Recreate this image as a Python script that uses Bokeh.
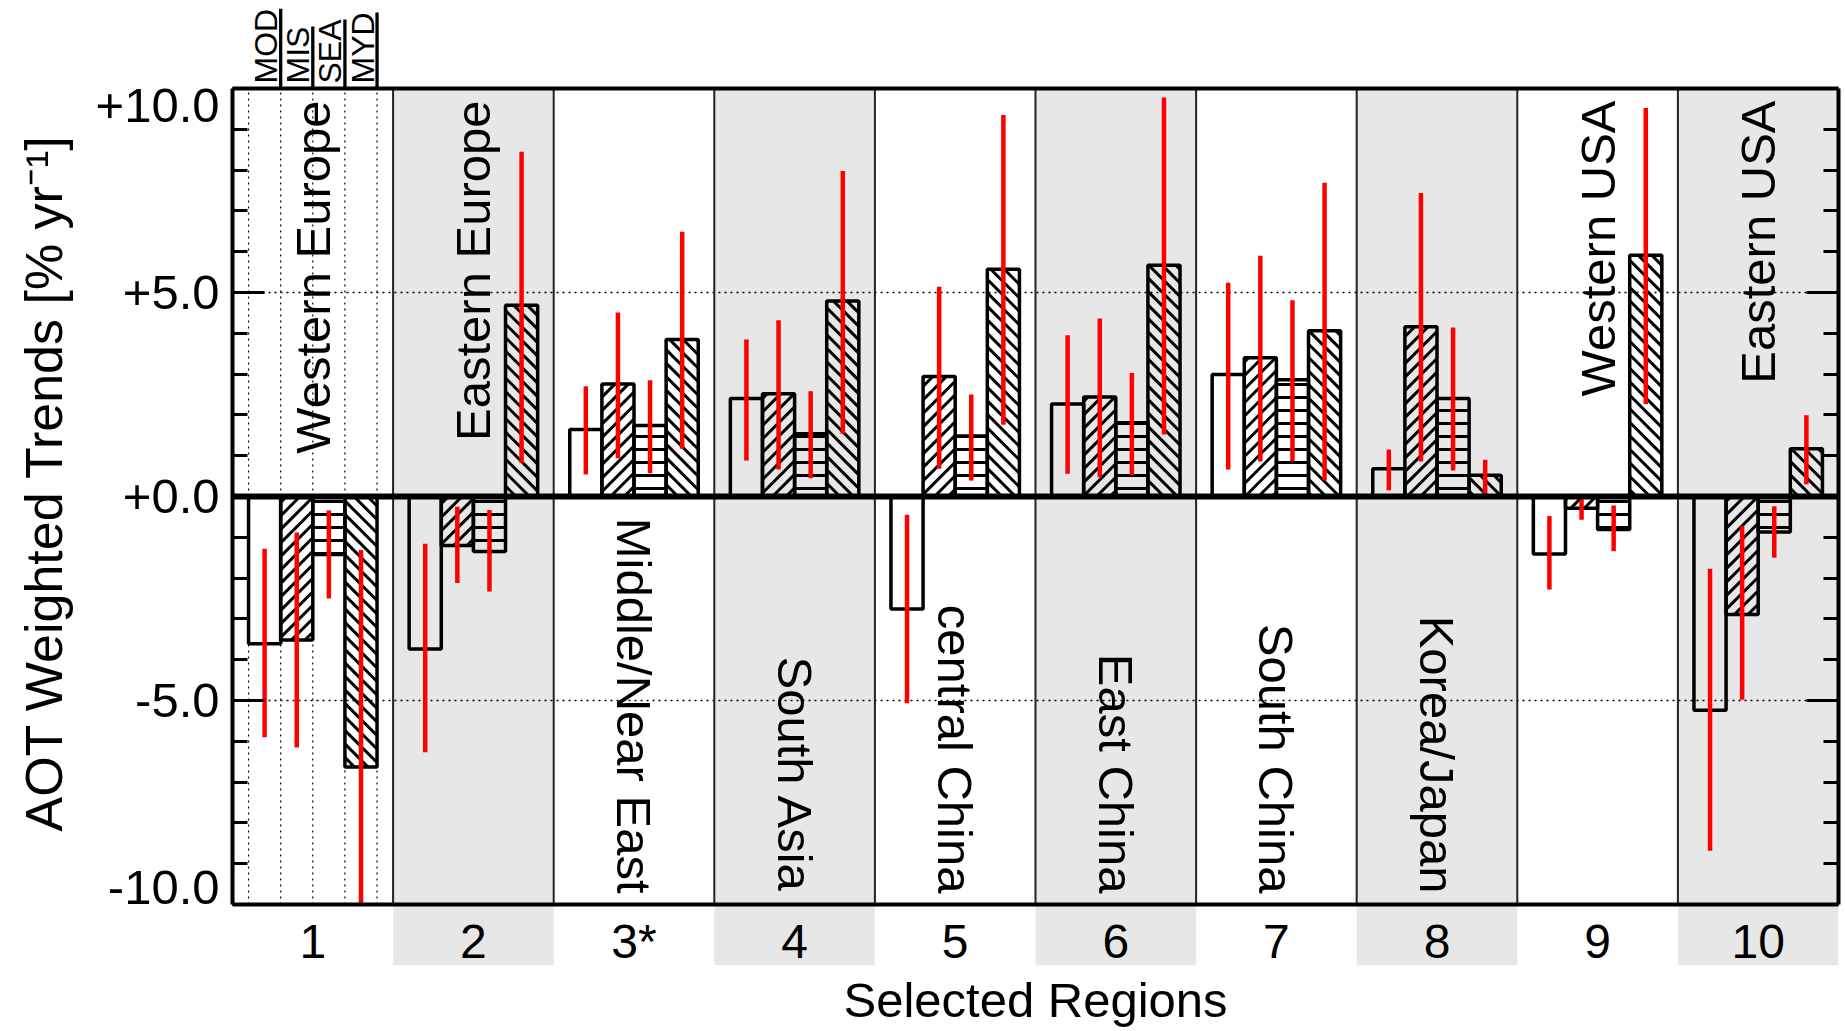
import math
from bokeh.plotting import figure
from bokeh.models import Range1d, FixedTicker, LinearAxis, ColumnDataSource, Span
from bokeh.core.properties import value
from bokeh.embed import file_html
from bokeh.resources import INLINE

# ---------------- data ----------------
region_ticks = ["1", "2", "3*", "4", "5", "6", "7", "8", "9", "10"]
region_names = ["Western Europe", "Eastern Europe", "Middle/Near East", "South Asia",
                "central China", "East China", "South China", "Korea/Japan",
                "Western USA", "Eastern USA"]
series_names = ["MOD", "MIS", "SEA", "MYD"]

mod_trend = [-3.61, -3.74, 1.64, 2.40, -2.76, 2.27, 2.99, 0.68, -1.41, -5.24]
mod_lo    = [-5.90, -6.27, 0.54, 0.88, -5.07, 0.56, 0.66, 0.15, -2.28, -8.68]
mod_hi    = [-1.28, -1.16, 2.70, 3.85, -0.45, 3.95, 5.24, 1.15, -0.48, -1.77]

mis_trend = [-3.52, -1.20, 2.76, 2.52, 2.94, 2.44, 3.40, 4.16, -0.29, -2.89]
mis_lo    = [-6.15, -2.12, 0.94, 0.66, 0.68, 0.47, 0.86, 0.86, -0.57, -4.98]
mis_hi    = [-0.88, -0.25, 4.51, 4.32, 5.14, 4.36, 5.90, 7.44, -0.07, -0.73]

sea_trend = [-1.42, -1.35, 1.74, 1.54, 1.48, 1.81, 2.86, 2.40, -0.81, -0.87]
sea_lo    = [-2.50, -2.33, 0.57, 0.45, 0.39, 0.52, 0.86, 0.64, -1.34, -1.50]
sea_hi    = [-0.34, -0.33, 2.85, 2.58, 2.50, 3.03, 4.81, 4.14, -0.22, -0.24]

myd_trend = [-6.63, 4.69, 3.85, 4.79, 5.57, 5.67, 4.06, 0.52, 5.91, 1.17]
myd_lo    = [-10.0, 0.82, 1.17, 1.54, 1.76, 1.52, 0.39, 0.07, 2.27, 0.30]
myd_hi    = [-1.31, 8.45, 6.49, 7.98, 9.35, 9.78, 7.69, 0.90, 9.52, 1.99]

y_ticks = [-10, -5, 0, 5, 10]
y_tick_labels = ["-10.0", "-5.0", "+0.0", "+5.0", "+10.0"]
y_minor_ticks = list(range(-10, 11))

# ---------------- layout ----------------
FONT = value("Liberation Sans")
W, H = 1845, 1031
PX = 40.8                      # pixels per data unit (vertical)
Y_TOP = 10 + 88 / PX           # room above frame for legend
Y_BOT = -10 - 61 / PX          # room below frame for region numbers
PXX = (1838 - 232) / 10.0      # pixels per region (horizontal)
BAR_W = 0.2

p = figure(width=W, height=H, x_range=Range1d(0.5, 10.5), y_range=Range1d(Y_BOT, Y_TOP),
           output_backend="svg", toolbar_location=None, tools="",
           min_border_left=232, min_border_right=7, min_border_top=0, min_border_bottom=66,
           outline_line_color=None, background_fill_color="white", border_fill_color="white")
p.xgrid.visible = False
p.ygrid.visible = False

n = len(region_names)
xs = list(range(1, n + 1))

# grey bands for even regions
band_x = [x for x in xs if x % 2 == 0]
p.quad(left=[x - 0.5 for x in band_x], right=[x + 0.5 for x in band_x],
       top=10, bottom=Y_BOT, fill_color="#e7e7e7", line_color=None)

# dotted horizontal grid at +/-5
p.segment(x0=0.5, x1=10.5, y0=[5, -5], y1=[5, -5], line_color="black",
          line_width=1.5, line_dash="2 4")

# region-1 dotted bar boundaries
edges1 = [1 + (k - 2) * BAR_W for k in range(5)]
p.segment(x0=edges1, x1=edges1, y0=-10, y1=10, line_color="black",
          line_width=1.2, line_dash="2 4")

# region separators
seps = [x + 0.5 for x in xs[:-1]]
p.segment(x0=seps, x1=seps, y0=-10, y1=10, line_color="#222222", line_width=2)


def diag_hatch(xc_list, vals, direction, d=13.5):
    """45-degree hatch lines clipped to each bar (computed in pixel space)."""
    sx0, sy0, sx1, sy1 = [], [], [], []
    for xc, v in zip(xc_list, vals):
        X0 = (xc - BAR_W / 2 - 0.5) * PXX
        X1 = (xc + BAR_W / 2 - 0.5) * PXX
        Y0, Y1 = sorted([0.0, v * PX])
        if direction == "/":
            kmin = math.ceil((Y0 - X1) / d)
            kmax = math.floor((Y1 - X0) / d)
            for k in range(kmin, kmax + 1):
                c = k * d
                xa, xb = max(X0, Y0 - c), min(X1, Y1 - c)
                if xb - xa > 0.5:
                    sx0.append(xa); sy0.append(xa + c); sx1.append(xb); sy1.append(xb + c)
        else:
            kmin = math.ceil((Y0 + X0) / d)
            kmax = math.floor((Y1 + X1) / d)
            for k in range(kmin, kmax + 1):
                c = k * d
                xa, xb = max(X0, c - Y1), min(X1, c - Y0)
                if xb - xa > 0.5:
                    sx0.append(xa); sy0.append(c - xa); sx1.append(xb); sy1.append(c - xb)
    return dict(x0=[a / PXX + 0.5 for a in sx0], y0=[b / PX for b in sy0],
                x1=[a / PXX + 0.5 for a in sx1], y1=[b / PX for b in sy1])


# bars
series = [(mod_trend, mod_lo, mod_hi, None),
          (mis_trend, mis_lo, mis_hi, "/"),
          (sea_trend, sea_lo, sea_hi, "-"),
          (myd_trend, myd_lo, myd_hi, "\\")]
sources = []
for i, (vals, lo, hi, pat) in enumerate(series):
    off = (i - 1.5) * BAR_W
    bx_ = [x + off for x in xs]
    src = ColumnDataSource(dict(x=bx_, top=vals, lo=lo, hi=hi))
    sources.append(src)
    kw = {}
    if pat in ("/", "\\"):
        p.segment(source=ColumnDataSource(diag_hatch(bx_, vals, pat)), x0="x0", y0="y0",
                  x1="x1", y1="y1", line_color="black", line_width=3)
    elif pat == "-":
        kw = dict(hatch_pattern="horizontal_line", hatch_color="black", hatch_weight=3,
                  hatch_scale=13)
    p.vbar(x="x", top="top", bottom=0, width=BAR_W, source=src, fill_color=None,
           line_color="black", line_width=3.5, **kw)

# error bars
for src in sources:
    p.segment(x0="x", x1="x", y0="lo", y1="hi", source=src, line_color="#ff0000", line_width=4.5)

# zero line and frame top/bottom
p.add_layout(Span(location=0, dimension="width", line_color="black", line_width=6))
p.add_layout(Span(location=10, dimension="width", line_color="black", line_width=4))
p.add_layout(Span(location=-10, dimension="width", line_color="black", line_width=4))

# region names
top_regions = {0, 1, 8, 9}
tx = [xs[i] for i in range(n) if i in top_regions]
tt = [region_names[i] for i in range(n) if i in top_regions]
bx = [xs[i] for i in range(n) if i not in top_regions]
bt = [region_names[i] for i in range(n) if i not in top_regions]
p.text(x=tx, y=10 - 12 / PX, text=tt, angle=math.pi / 2, text_align="right",
       text_baseline="middle", text_font=FONT, text_font_size="49px", text_color="black")
p.text(x=bx, y=-10 + 11 / PX, text=bt, angle=-math.pi / 2, text_align="right",
       text_baseline="middle", text_font=FONT, text_font_size="49px", text_color="black")

# region numbers
p.text(x=xs, y=-10 - 37 / PX, text=region_ticks, text_align="center", text_baseline="middle",
       text_font=FONT, text_font_size="48px", text_color="black")

# legend above region 1 (rotated labels, underlined)
em = {"M": 0.833, "O": 0.778, "D": 0.722, "I": 0.278, "S": 0.667, "E": 0.667, "A": 0.667, "Y": 0.667}
LEG_FS = 32
leg_x = [1 + (i - 1.5) * BAR_W + BAR_W / 2 for i in range(len(series_names))]
leg_y0 = 10 + 5 / PX
p.text(x=[x - (3 + 0.36 * LEG_FS) / PXX for x in leg_x], y=leg_y0, text=series_names,
       angle=math.pi / 2, text_align="left", text_baseline="middle", text_font=FONT,
       text_font_size=f"{LEG_FS}px", text_color="black")
leg_top = [leg_y0 + sum(em[c] for c in s) * LEG_FS / PX for s in series_names]
p.segment(x0=leg_x, x1=leg_x, y0=10, y1=leg_top, line_color="black", line_width=3.3)

# ---------------- axes ----------------
# inner left axis: frame line and inward ticks
ya = p.yaxis[0]
ya.bounds = (-10, 10)
ya.ticker = FixedTicker(ticks=y_ticks, minor_ticks=y_minor_ticks)
ya.major_label_overrides = {t: "" for t in y_ticks}
ya.major_label_text_font_size = "10px"
ya.major_label_standoff = 0
ya.axis_line_width = 4
ya.major_tick_in = 32
ya.major_tick_out = 0
ya.minor_tick_in = 15
ya.minor_tick_out = 0
ya.major_tick_line_width = 3
ya.minor_tick_line_width = 3

# outer left axis: tick labels (kept inside the +/-10 span) and axis title
LAB_HALF = 17 / PX
lab_pos = [min(max(t, -10 + LAB_HALF), 10 - LAB_HALF) for t in y_ticks]
yl = LinearAxis(bounds=(-10, 10), ticker=FixedTicker(ticks=lab_pos, minor_ticks=[]),
                major_label_overrides=dict(zip(lab_pos, y_tick_labels)),
                axis_line_color=None, major_tick_line_color=None, minor_tick_line_color=None,
                major_tick_in=0, major_tick_out=0, minor_tick_in=0, minor_tick_out=0,
                major_label_text_font="Liberation Sans", major_label_text_font_size="49px",
                major_label_text_color="black", major_label_standoff=13,
                axis_label="AOT Weighted Trends [% yr\u207b\u00b9]",
                axis_label_text_font="Liberation Sans", axis_label_text_font_size="52px",
                axis_label_text_font_style="normal", axis_label_text_color="black",
                axis_label_standoff=20)
p.add_layout(yl, "left")

ra = LinearAxis(bounds=(-10, 10), ticker=FixedTicker(ticks=y_ticks, minor_ticks=y_minor_ticks),
                major_label_overrides={t: "" for t in y_ticks},
                axis_line_width=4, major_tick_in=32, major_tick_out=0, minor_tick_in=15,
                minor_tick_out=0, major_tick_line_width=3, minor_tick_line_width=3,
                major_label_standoff=0, major_label_text_font_size="10px")
p.add_layout(ra, "right")

xa = p.xaxis[0]
xa.ticker = FixedTicker(ticks=[])
xa.axis_line_color = None
xa.major_tick_line_color = None
xa.minor_tick_line_color = None
xa.major_tick_in = 0
xa.major_tick_out = 0
xa.minor_tick_out = 0
xa.major_label_standoff = 0
xa.axis_label = "Selected Regions"
xa.axis_label_text_font = "Liberation Sans"
xa.axis_label_text_font_size = "49px"
xa.axis_label_text_font_style = "normal"
xa.axis_label_text_color = "black"
xa.axis_label_standoff = 7

open("out.html", "w").write(file_html(p, INLINE))
